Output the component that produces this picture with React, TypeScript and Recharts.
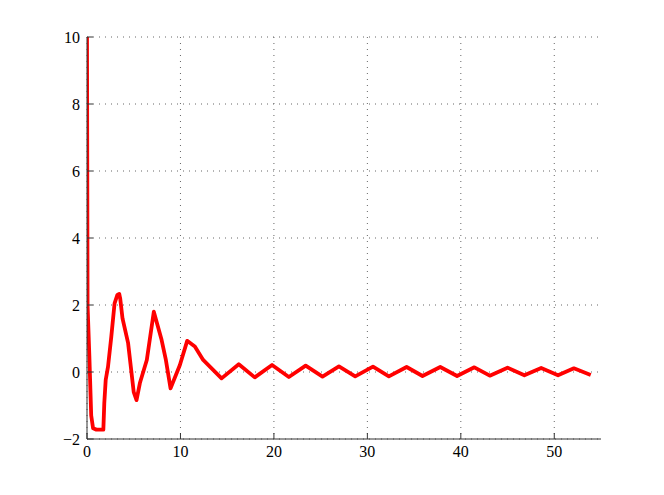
import React from 'react'
import { LineChart, Line, XAxis, YAxis, CartesianGrid } from 'recharts'

// time samples and response
const tValues = [
  0, 0.06, 0.25, 0.45, 0.65, 1.0, 1.75, 1.85, 2.0, 2.25, 2.6, 2.95, 3.25, 3.45, 3.55, 3.8, 4.4,
  5.0, 5.3, 5.66, 6.4, 7.15, 7.98, 8.44, 8.94, 9.94, 10.72, 11.54, 12.43, 12.8, 14.4, 16.24,
  17.95, 19.8, 21.6, 23.4, 25.2, 26.96, 28.7, 30.6, 32.3, 34.2, 35.9, 37.8, 39.6, 41.45, 43.1,
  45.0, 46.8, 48.6, 50.4, 52.1, 53.9,
]
const yValues = [
  10, 2.0, 0.5, -1.3, -1.68, -1.72, -1.72, -0.93, -0.24, 0.16, 1.05, 2.05, 2.3, 2.33, 2.2, 1.6,
  0.86, -0.6, -0.84, -0.33, 0.36, 1.8, 0.96, 0.36, -0.49, 0.21, 0.93, 0.76, 0.36, 0.26, -0.19,
  0.23, -0.16, 0.21, -0.15, 0.19, -0.14, 0.17, -0.13, 0.16, -0.13, 0.15, -0.12, 0.15, -0.12,
  0.14, -0.11, 0.13, -0.1, 0.12, -0.1, 0.11, -0.09,
]
const xTicks = [0, 10, 20, 30, 40, 50]
const yTicks = [-2, 0, 2, 4, 6, 8, 10]

const data = tValues.map((t, i) => ({ t, y: yValues[i] }))

const tickStyle = { fill: '#000', fontSize: 16, fontFamily: '"Liberation Serif", serif' }
// matlab prints a real minus sign
const fmt = (v: number) => String(v).replace('-', '\u2212')

const App = () => {
  return (
    <div style={{ position: 'absolute', left: 0, top: 0, width: 664, height: 495, background: '#fff' }}>
      <LineChart width={664} height={495} data={data} margin={{ top: 37, right: 63, left: 37, bottom: 26 }}>
        <CartesianGrid stroke="#666" strokeDasharray="1 5" horizontalValues={yTicks} verticalValues={xTicks} />
        <XAxis
          dataKey="t"
          type="number"
          domain={[0, 55]}
          ticks={xTicks}
          allowDataOverflow
          height={30}
          tickSize={-6}
          tickMargin={13}
          tick={tickStyle}
          tickFormatter={fmt}
          stroke="#333"
        />
        <YAxis
          type="number"
          domain={[-2, 10]}
          ticks={yTicks}
          allowDataOverflow
          width={50}
          tickSize={-6}
          tickMargin={13}
          tick={tickStyle}
          tickFormatter={fmt}
          stroke="#333"
        />
        <Line
          type="linear"
          dataKey="y"
          stroke="#ff0000"
          strokeWidth={3.8}
          dot={false}
          strokeLinejoin="round"
          isAnimationActive={false}
        />
      </LineChart>
    </div>
  )
}

export default App
